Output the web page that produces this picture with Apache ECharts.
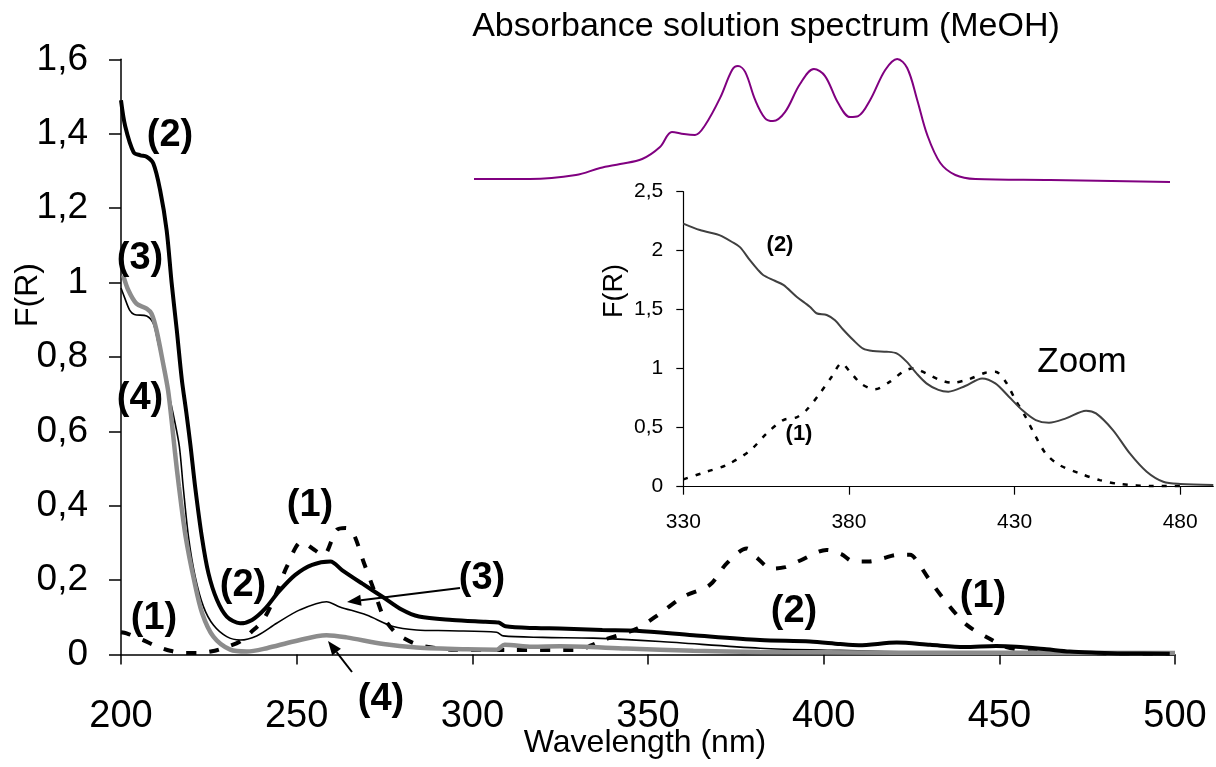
<!DOCTYPE html>
<html><head><meta charset="utf-8">
<script src="https://cdn.jsdelivr.net/npm/echarts@6/dist/echarts.min.js"></script>
<style>html,body{margin:0;padding:0;background:#fff}#c{width:1216px;height:767px}</style>
</head><body><div id="c"></div>
<script>
// ---------- data (wavelength nm, value) ----------
const mainTicksX = [200, 250, 300, 350, 400, 450, 500];
const insetTicksX = [330, 380, 430, 480];

// (1) dashed
const main1 = [[200,0.06],[201.6,0.057],[206,0.04],[210.2,0.022],[214,0.01],[218.2,0.004],[222,0.004],[226.7,0.01],[230,0.02],[233.9,0.035],[237,0.06],[240.5,0.093],[244,0.16],[247.2,0.236],[251.4,0.303],[254.5,0.285],[257.6,0.267],[261.4,0.335],[264,0.34],[266.1,0.326],[269,0.25],[271.8,0.178],[274.7,0.102],[277.5,0.065],[280.4,0.044],[285,0.025],[294.8,0.013],[310,0.012],[330,0.012],[334,0.025],[337.3,0.039],[346.7,0.069],[353.4,0.11],[360,0.155],[367.6,0.187],[372.4,0.245],[378.1,0.285],[381,0.26],[385.2,0.231],[389,0.235],[393.2,0.252],[400.8,0.281],[405,0.27],[408.5,0.25],[413,0.25],[417,0.259],[421,0.268],[424.6,0.268],[427,0.245],[429.8,0.205],[435.1,0.138],[440.8,0.079],[447.9,0.039],[452,0.02],[460,0.008],[480,0.003],[500,0.002]];
// (2) thick black
const main2 = [[200,1.49],[201.2,1.42],[203.6,1.35],[205.5,1.342],[207.3,1.338],[209.2,1.32],[211.1,1.25],[213,1.14],[214.4,1.0],[215.9,0.87],[217.3,0.74],[218.6,0.65],[219.8,0.56],[221.1,0.451],[223,0.317],[224.9,0.218],[227.3,0.147],[230.1,0.102],[233.9,0.084],[237.3,0.093],[241.1,0.124],[244.9,0.169],[249.6,0.214],[254.4,0.241],[259.6,0.25],[262.9,0.227],[268.6,0.191],[274.3,0.156],[280,0.12],[284.8,0.102],[294.3,0.093],[303.7,0.088],[307.5,0.086],[309.4,0.076],[318,0.071],[324.9,0.07],[337,0.066],[346.7,0.064],[362.9,0.052],[381.9,0.039],[396.1,0.035],[404.7,0.028],[410,0.025],[420.8,0.032],[430.3,0.026],[440,0.02],[449.1,0.023],[454.8,0.021],[463.4,0.014],[470,0.008],[477.6,0.005],[485,0.003],[498.5,0.002]];
// (3) thin black
const main3 = [[200,0.985],[201,0.96],[202.5,0.925],[203.8,0.914],[207.3,0.91],[209.2,0.89],[210.6,0.836],[212,0.782],[213.4,0.71],[215,0.64],[216.6,0.56],[217.7,0.451],[219.2,0.317],[221.1,0.21],[223.5,0.128],[226.3,0.079],[230.1,0.048],[233.9,0.039],[238.6,0.05],[244.3,0.084],[250.9,0.12],[258.5,0.142],[262.3,0.128],[269.9,0.106],[277.5,0.075],[284.1,0.066],[293.6,0.064],[306.9,0.06],[308.8,0.05],[320,0.046],[334.4,0.044],[353.4,0.035],[381.9,0.017],[404.7,0.011],[430,0.006],[460,0.003],[500,0.002]];
// (4) grey
const main4 = [[200.6,1.02],[202.1,0.979],[204.4,0.943],[207.3,0.93],[208.7,0.916],[210.1,0.872],[212,0.782],[213.4,0.71],[214.4,0.63],[215.4,0.54],[216.5,0.451],[218.4,0.317],[220.8,0.2],[223.1,0.111],[226.3,0.048],[231.1,0.013],[235.8,0.008],[241.5,0.017],[249.1,0.035],[258.5,0.052],[264.2,0.046],[274.7,0.028],[284.1,0.019],[298.4,0.014],[306.9,0.013],[309.2,0.026],[317.1,0.021],[324.9,0.022],[343.9,0.016],[362.9,0.01],[381.9,0.007],[420,0.005],[500,0.004]];

// inset "Zoom"
const zoom2 = [[330,2.23],[335,2.175],[340.1,2.14],[341.6,2.124],[344.6,2.076],[347.1,2.03],[350.1,1.92],[352.6,1.836],[354.1,1.794],[357.2,1.75],[360.2,1.71],[364.2,1.61],[368.2,1.525],[370.2,1.47],[373.3,1.455],[375.8,1.41],[378.3,1.33],[381.3,1.243],[384.3,1.17],[387.3,1.15],[391.4,1.144],[394.4,1.13],[397.4,1.06],[400.4,0.96],[403.4,0.876],[407,0.82],[410,0.805],[415.1,0.853],[420.2,0.918],[424.2,0.876],[428.3,0.763],[432.3,0.65],[436.4,0.565],[440.4,0.542],[445.5,0.579],[451.6,0.644],[454.6,0.621],[459.7,0.48],[464.8,0.282],[469.9,0.127],[474.9,0.042],[480,0.023],[490,0.014]];
const zoom1 = [[330,0.062],[337,0.127],[343.1,0.184],[350.1,0.305],[355.2,0.452],[360.2,0.565],[364.2,0.588],[367.2,0.65],[371.2,0.79],[374.8,0.932],[377.8,1.045],[380.3,0.975],[383.8,0.87],[387.8,0.825],[392.4,0.89],[396.4,0.975],[399.4,1.003],[403.4,0.96],[407,0.91],[411,0.881],[416.1,0.91],[421.2,0.966],[424.2,0.975],[427.3,0.89],[430.3,0.734],[433.3,0.593],[436.4,0.424],[439.4,0.282],[443.5,0.184],[449.6,0.113],[455.7,0.056],[461.7,0.023],[471.9,0.006],[480,0.006]];

// absorbance solution spectrum (MeOH), relative units
const absorb = [[250,0.046],[270.1,0.046],[286.6,0.077],[295.3,0.131],[302.5,0.162],[310.4,0.2],[316.8,0.292],[321.1,0.408],[325.4,0.392],[329.4,0.385],[333,0.46],[338.4,0.67],[342.7,0.885],[344.8,0.915],[347.4,0.87],[351,0.654],[354.5,0.515],[357.4,0.492],[361.7,0.56],[367.1,0.777],[372.1,0.892],[376.1,0.838],[380.8,0.63],[385.1,0.523],[388,0.53],[392.3,0.654],[397.7,0.885],[402,0.97],[405.6,0.9],[409.2,0.654],[412.8,0.385],[417.5,0.169],[422.9,0.077],[430.1,0.046],[457,0.038],[500,0.023]];

// ---------- chart ----------
const FONT = '"Liberation Sans", Arial, sans-serif';
const comma = v => String(Math.round(v * 10) / 10).replace('.', ',');

function txt(text, x, y, size, bold, rot) {
  return { type: 'text', x: x, y: y, rotation: rot || 0, z: 10,
    style: { text: text, fill: '#000', font: (bold ? 'bold ' : '') + size + 'px ' + FONT,
      textAlign: 'center', textVerticalAlign: 'middle' } };
}
function arrow(x1, y1, x2, y2) {
  const dx = x2 - x1, dy = y2 - y1, L = Math.hypot(dx, dy), ux = dx / L, uy = dy / L;
  const hl = 14, hw = 5.5, bx = x2 - ux * hl, by = y2 - uy * hl;
  return [
    { type: 'line', z: 10, shape: { x1: x1, y1: y1, x2: bx, y2: by }, style: { stroke: '#000', lineWidth: 2 } },
    { type: 'polygon', z: 10, shape: { points: [[x2, y2], [bx - uy * hw, by + ux * hw], [bx + uy * hw, by - ux * hw]] }, style: { fill: '#000' } }
  ];
}

const chart = echarts.init(document.getElementById('c'), null, { renderer: 'canvas' });
const axisLineBlack = { show: true, lineStyle: { color: '#000', width: 1.5 } };

chart.setOption({
  animation: false,
  backgroundColor: '#fff',
  grid: [
    { left: 121, top: 59.3, width: 1054, height: 595.2 },
    { left: 683.3, top: 191.7, width: 530, height: 295 },
    { left: 474, top: 55, width: 696, height: 130 }
  ],
  xAxis: [
    { type: 'value', gridIndex: 0, min: 200, max: 500, interval: 50,
      axisLine: axisLineBlack, axisTick: { show: true, length: 10, lineStyle: { color: '#000', width: 1.5 } },
      axisLabel: { fontSize: 38, color: '#000', fontFamily: FONT, margin: 43 }, splitLine: { show: false } },
    { type: 'value', gridIndex: 1, min: 330, max: 490, interval: 50,
      axisLine: { show: true, onZero: false, lineStyle: { color: '#000', width: 1.2 } },
      axisTick: { show: true, length: 8, customValues: insetTicksX, lineStyle: { color: '#000', width: 1.2 } },
      axisLabel: { fontSize: 21, color: '#000', fontFamily: FONT, margin: 25, customValues: insetTicksX,
        formatter: v => (insetTicksX.indexOf(v) >= 0 ? String(v) : '') },
      splitLine: { show: false } },
    { type: 'value', gridIndex: 2, min: 250, max: 500, show: false }
  ],
  yAxis: [
    { type: 'value', gridIndex: 0, min: 0, max: 1.6, interval: 0.2,
      axisLine: axisLineBlack, axisTick: { show: true, length: 12, lineStyle: { color: '#000', width: 1.5 } },
      axisLabel: { fontSize: 37, color: '#000', fontFamily: FONT, margin: 33, formatter: comma }, splitLine: { show: false } },
    { type: 'value', gridIndex: 1, min: 0, max: 2.5, interval: 0.5,
      axisLine: { show: true, lineStyle: { color: '#000', width: 1.2 } },
      axisTick: { show: true, length: 7, lineStyle: { color: '#000', width: 1.2 } },
      axisLabel: { fontSize: 21, color: '#000', fontFamily: FONT, margin: 20, formatter: comma }, splitLine: { show: false } },
    { type: 'value', gridIndex: 2, min: 0, max: 1, show: false }
  ],
  series: [
    { type: 'line', xAxisIndex: 0, yAxisIndex: 0, data: main1, showSymbol: false, smooth: 0.3,
      lineStyle: { color: '#000', width: 4, type: [10, 13], cap: 'butt' } },
    { type: 'line', xAxisIndex: 0, yAxisIndex: 0, data: main3, showSymbol: false, smooth: 0.3,
      lineStyle: { color: '#000', width: 1.6 } },
    { type: 'line', xAxisIndex: 0, yAxisIndex: 0, data: main4, showSymbol: false, smooth: 0.3,
      lineStyle: { color: '#8c8c8c', width: 4.5 } },
    { type: 'line', xAxisIndex: 0, yAxisIndex: 0, data: main2, showSymbol: false, smooth: 0.3,
      lineStyle: { color: '#000', width: 4 } },
    { type: 'line', xAxisIndex: 1, yAxisIndex: 1, data: zoom1, showSymbol: false, smooth: 0.3,
      lineStyle: { color: '#000', width: 2.5, type: [5, 8], cap: 'butt' } },
    { type: 'line', xAxisIndex: 1, yAxisIndex: 1, data: zoom2, showSymbol: false, smooth: 0.3,
      lineStyle: { color: '#404040', width: 2 } },
    { type: 'line', xAxisIndex: 2, yAxisIndex: 2, data: absorb, showSymbol: false, smooth: 0.35,
      lineStyle: { color: '#800080', width: 2 } }
  ],
  graphic: [
    txt('Absorbance solution spectrum (MeOH)', 766, 27, 34, false),
    txt('F(R)', 28, 295, 32, false, Math.PI / 2),
    txt('Wavelength (nm)', 645, 743, 32, false),
    txt('F(R)', 615, 291, 27, false, Math.PI / 2),
    txt('Zoom', 1082, 362, 35, false),
    txt('(2)', 780, 245, 22, true),
    txt('(1)', 799, 434, 22, true),
    txt('(2)', 170, 136, 38, true),
    txt('(3)', 140, 259, 38, true),
    txt('(4)', 140, 399, 38, true),
    txt('(1)', 310, 506, 38, true),
    txt('(2)', 243, 586, 38, true),
    txt('(1)', 154, 619, 38, true),
    txt('(3)', 482, 579, 38, true),
    txt('(4)', 381, 700, 38, true),
    txt('(2)', 794, 612, 38, true),
    txt('(1)', 983, 597, 38, true)
  ].concat(arrow(460, 588, 347, 602), arrow(352, 672, 328, 641))
});
</script>
</body></html>
